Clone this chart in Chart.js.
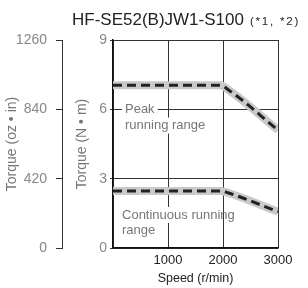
<!DOCTYPE html>
<html lang="en">
<head>
<meta charset="UTF-8">
<title>HF-SE52(B)JW1-S100</title>
<script src="https://cdn.jsdelivr.net/npm/chart.js@4"></script>
<style>
  * { margin:0; padding:0; box-sizing:border-box; }
  body { background:#fff; width:308px; height:288px; overflow:hidden; }
  .wrap { position:relative; width:308px; height:288px; }
  .title { position:absolute; left:72px; top:10px; font-family:'Liberation Sans', Arial, sans-serif; font-size:17px; line-height:20px; color:#222; white-space:nowrap; z-index:2; }
  .title small { font-size:11.5px; letter-spacing:1.8px; margin-left:6px; }
  canvas { position:absolute; left:0; top:0; }
</style>
</head>
<body>
<div class="wrap">
  <div class="title">HF-SE52(B)JW1-S100<small>(*1, *2)</small></div>
  <canvas id="torqueChart" width="308" height="288"></canvas>
</div>
<script>
  // values
  var peakSpeed  = [0, 1950, 2100, 3000];
  var peakTorque = [7.04, 7.04, 6.84, 5.1];
  var contSpeed  = [0, 1950, 2100, 3000];
  var contTorque = [2.47, 2.47, 2.38, 1.57];

  var speedTicks = [0, 1000, 2000, 3000];
  var nmTicks    = [0, 3, 6, 9];
  var ozTicks    = [0, 420, 840, 1260];
  var rangeLabels = ['Peak', 'running range', 'Continuous running', 'range'];

  var sans = "'Liberation Sans', Arial, sans-serif";

  function pts(xs, ys) { return xs.map((x, i) => ({ x: x, y: ys[i] })); }
  function fixTicks(list) { return function(s) { s.ticks = list.map(v => ({ value: v })); }; }
  function plain(v) { return String(v); }

  function band(data) {
    return { data: data, borderColor: '#c9c9c9', borderWidth: 8, pointRadius: 0, fill: false,
             cubicInterpolationMode: 'monotone', borderJoinStyle: 'round', order: 1 };
  }
  function dashed(data) {
    return { data: data, borderColor: '#222', borderWidth: 3, borderDash: [9, 5], pointRadius: 0, fill: false,
             cubicInterpolationMode: 'monotone', borderCapStyle: 'butt', order: 0 };
  }

  // range captions with white backing, drawn over the grid
  var rangeText = {
    id: 'rangeText',
    beforeDatasetsDraw(chart) {
      var ctx = chart.ctx, xs = chart.scales.x, ys = chart.scales.y;
      var spots = [[218, 6], [218, 5.3], [164, 1.43], [164, 0.74]];
      var stop = xs.getPixelForValue(2000) - 2;
      ctx.save();
      ctx.font = '13px ' + sans;
      ctx.textBaseline = 'middle';
      rangeLabels.forEach((t, i) => {
        var px = xs.getPixelForValue(spots[i][0]), py = ys.getPixelForValue(spots[i][1]);
        var w = ctx.measureText(t).width;
        var right = Math.min(px + w + 3, stop);
        ctx.fillStyle = '#fff';
        ctx.fillRect(px - 3, py - 8, right - px + 3, 16);
        ctx.fillStyle = '#777';
        ctx.fillText(t, px, py);
      });
      ctx.restore();
    }
  };

  new Chart(document.getElementById('torqueChart'), {
    type: 'line',
    data: {
      datasets: [
        dashed(pts(peakSpeed, peakTorque)),
        dashed(pts(contSpeed, contTorque)),
        band(pts(peakSpeed, peakTorque)),
        band(pts(contSpeed, contTorque))
      ]
    },
    options: {
      responsive: false,
      devicePixelRatio: 1,
      animation: false,
      layout: { padding: { top: 40, right: 30, left: 0, bottom: 0 } },
      plugins: { legend: { display: false }, tooltip: { enabled: false } },
      scales: {
        x: {
          type: 'linear', min: 0, max: 3000,
          afterBuildTicks: fixTicks(speedTicks),
          afterFit: function(s) { s.height = 40; },
          ticks: { callback: v => v === 0 ? '' : String(v), font: { family: sans, size: 13 }, color: '#222', padding: 5, maxRotation: 0, autoSkip: false },
          grid: { color: '#333', lineWidth: 1, drawTicks: false },
          border: { color: '#111', width: 1.5 },
          title: { display: true, text: 'Speed (r/min)', font: { family: sans, size: 12.5 }, color: '#222', padding: { top: 0, bottom: 2 } }
        },
        y: {
          position: 'left', weight: 0, min: 0, max: 9,
          afterBuildTicks: fixTicks(nmTicks),
          afterFit: function(s) { s.width = 51; },
          ticks: { callback: plain, font: { family: sans, size: 14 }, color: '#888', padding: 3 },
          grid: { color: '#333', lineWidth: 1, tickLength: 3 },
          border: { color: '#111', width: 1.5 },
          title: { display: true, text: 'Torque (N • m)', font: { family: sans, size: 14 }, color: '#777', padding: { top: 12, bottom: 0 } }
        },
        y2: {
          position: 'left', weight: 1, min: 0, max: 1260,
          afterBuildTicks: fixTicks(ozTicks),
          afterFit: function(s) { s.width = 62; },
          ticks: { callback: plain, font: { family: sans, size: 14 }, color: '#888', padding: 9 },
          grid: { drawOnChartArea: false, color: '#333', lineWidth: 1, tickLength: 6 },
          border: { color: '#333', width: 1 },
          title: { display: true, text: 'Torque (oz • in)', font: { family: sans, size: 14 }, color: '#777', padding: { top: 4, bottom: 0 } }
        }
      }
    },
    plugins: [rangeText]
  });
</script>
</body>
</html>
